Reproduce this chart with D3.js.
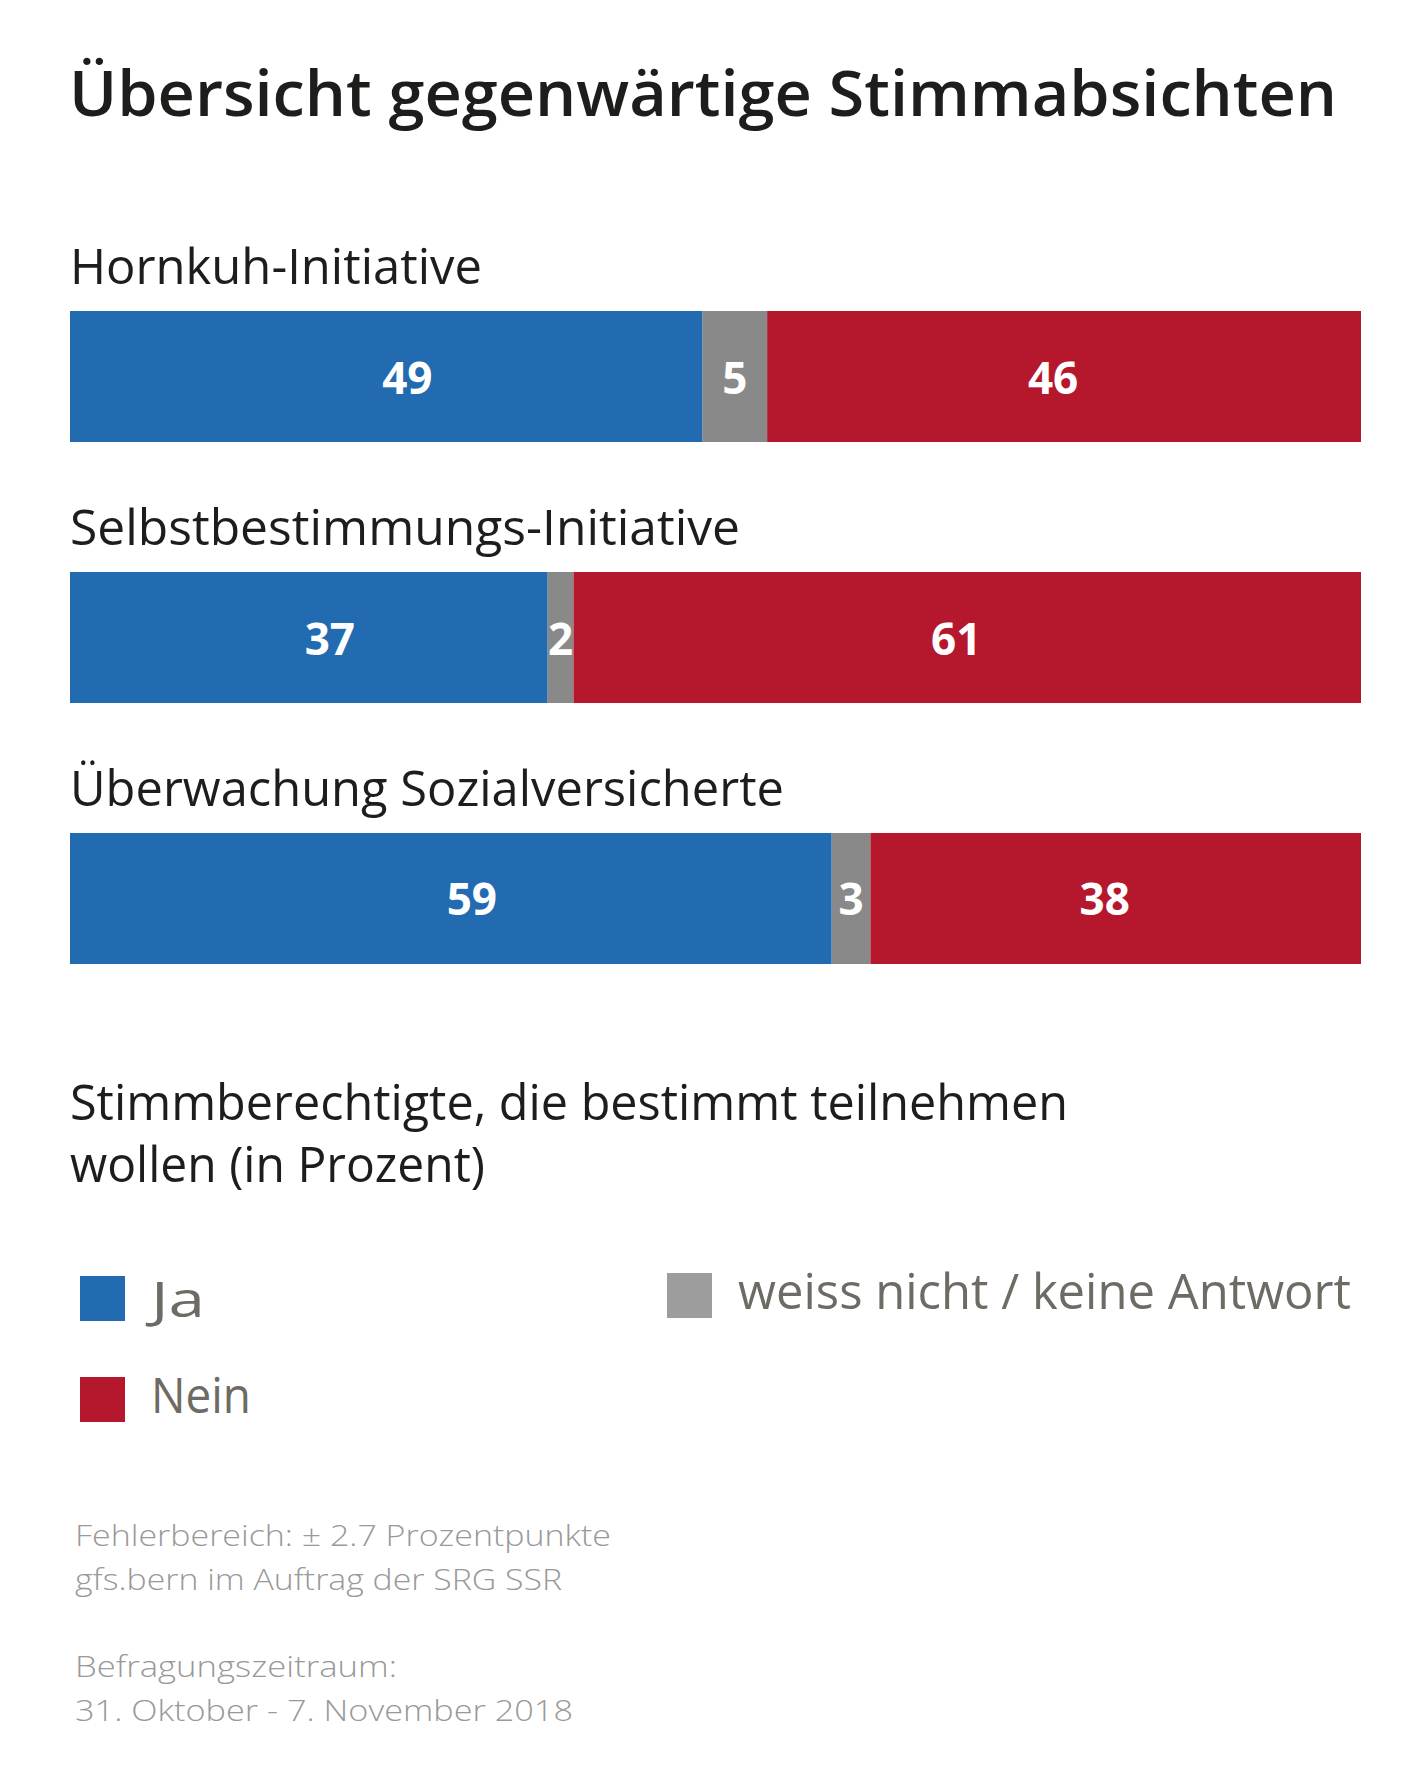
<!DOCTYPE html>
<html>
<head>
<meta charset="utf-8">
<script src="https://cdn.jsdelivr.net/npm/d3@7"></script>
<style>
  html, body { margin: 0; padding: 0; background: #ffffff; }
  svg { display: block; }
  text { font-family: "Open Sans", "Noto Sans", sans-serif; }
</style>
</head>
<body>
<svg id="chart" width="1424" height="1777"></svg>
<script>
// ---- data ----
const categories = ["Hornkuh-Initiative", "Selbstbestimmungs-Initiative", "Überwachung Sozialversicherte"];
const jaValues = [49, 37, 59];
const weissNichtValues = [5, 2, 3];
const neinValues = [46, 61, 38];
const seriesKeys = ["ja", "wn", "nein"];
const seriesNames = ["Ja", "weiss nicht / keine Antwort", "Nein"];
const titleText = "Übersicht gegenwärtige Stimmabsichten";
const subtitleLines = ["Stimmberechtigte, die bestimmt teilnehmen", "wollen (in Prozent)"];
const footerLines = ["Fehlerbereich: ± 2.7 Prozentpunkte", "gfs.bern im Auftrag der SRG SSR", "", "Befragungszeitraum:", "31. Oktober - 7. November 2018"];

// ---- styles ----
const colors = { ja: "#226bb0", wn: "#898989", nein: "#b5182d" };
const legendColors = { ja: "#226bb0", wn: "#9d9d9d", nein: "#b5182d" };
const labelOffset = { ja: 21, wn: 0, nein: -11 };

const rows = categories.map((c, i) => ({ cat: c, ja: jaValues[i], wn: weissNichtValues[i], nein: neinValues[i] }));
const stacked = d3.stack().keys(seriesKeys)(rows);

const svg = d3.select("#chart");
svg.append("rect").attr("width", 1424).attr("height", 1777).attr("fill", "#fff");

const x = d3.scaleLinear().domain([0, 100]).range([70, 1361]);
const y = d3.scaleBand().domain(categories).range([311, 964]).paddingInner(0.498).paddingOuter(0);

// title
svg.append("text")
  .attr("x", 69).attr("y", 116)
  .attr("font-size", 64).attr("font-weight", 600).attr("fill", "#1d1d1b")
  .attr("textLength", 1268).attr("lengthAdjust", "spacingAndGlyphs")
  .text(titleText);

// category labels
const catWidths = [412, 670, 714];
svg.append("g").selectAll("text").data(categories).join("text")
  .attr("x", 70)
  .attr("y", d => y(d) - 27)
  .attr("font-size", 49).attr("fill", "#1d1d1b")
  .attr("textLength", (d, i) => catWidths[i]).attr("lengthAdjust", "spacingAndGlyphs")
  .text(d => d);

// bars
const gBars = svg.append("g");
stacked.forEach(layer => {
  const key = layer.key;
  gBars.append("g").selectAll("rect").data(layer).join("rect")
    .attr("x", d => x(d[0]))
    .attr("y", d => y(d.data.cat))
    .attr("width", d => x(d[1]) - x(d[0]))
    .attr("height", y.bandwidth())
    .attr("fill", colors[key]);
  gBars.append("g").selectAll("text").data(layer).join("text")
    .attr("x", d => (x(d[0]) + x(d[1])) / 2 + labelOffset[key])
    .attr("y", d => y(d.data.cat) + y.bandwidth() / 2 + 17)
    .attr("text-anchor", "middle")
    .attr("font-size", 44).attr("font-weight", 700).attr("fill", "#ffffff")
    .text(d => d.data[key]);
});

// subtitle
svg.append("g").selectAll("text").data(subtitleLines).join("text")
  .attr("x", 70)
  .attr("y", (d, i) => 1120 + i * 62)
  .attr("font-size", 49).attr("fill", "#1d1d1b")
  .attr("textLength", (d, i) => [998, 415][i]).attr("lengthAdjust", "spacingAndGlyphs")
  .text(d => d);

// legend
const legendItems = [
  { key: "ja", name: seriesNames[0], sx: 80, sy: 1276, ty: 1317, tw: 54 },
  { key: "wn", name: seriesNames[1], sx: 667, sy: 1273, ty: 1309, tw: 613 },
  { key: "nein", name: seriesNames[2], sx: 80, sy: 1377, ty: 1413, tw: 100 }
];
const lg = svg.append("g").selectAll("g").data(legendItems).join("g");
lg.append("rect")
  .attr("x", d => d.sx).attr("y", d => d.sy)
  .attr("width", 45).attr("height", 45)
  .attr("fill", d => legendColors[d.key]);
lg.append("text")
  .attr("x", d => d.sx + 71).attr("y", d => d.ty)
  .attr("font-size", 49).attr("fill", "#6d6b63")
  .attr("textLength", d => d.tw).attr("lengthAdjust", "spacingAndGlyphs")
  .text(d => d.name);

// footer
const footerWidths = [536, 487, 0, 322, 498];
svg.append("g").selectAll("text").data(footerLines).join("text")
  .attr("x", 75)
  .attr("y", (d, i) => 1546 + i * 43.7)
  .attr("font-size", 30).attr("font-weight", 300).attr("fill", "#999999")
  .each(function (d, i) {
    if (footerWidths[i] > 0) d3.select(this).attr("textLength", footerWidths[i]).attr("lengthAdjust", "spacingAndGlyphs");
  })
  .text(d => d);
</script>
</body>
</html>
